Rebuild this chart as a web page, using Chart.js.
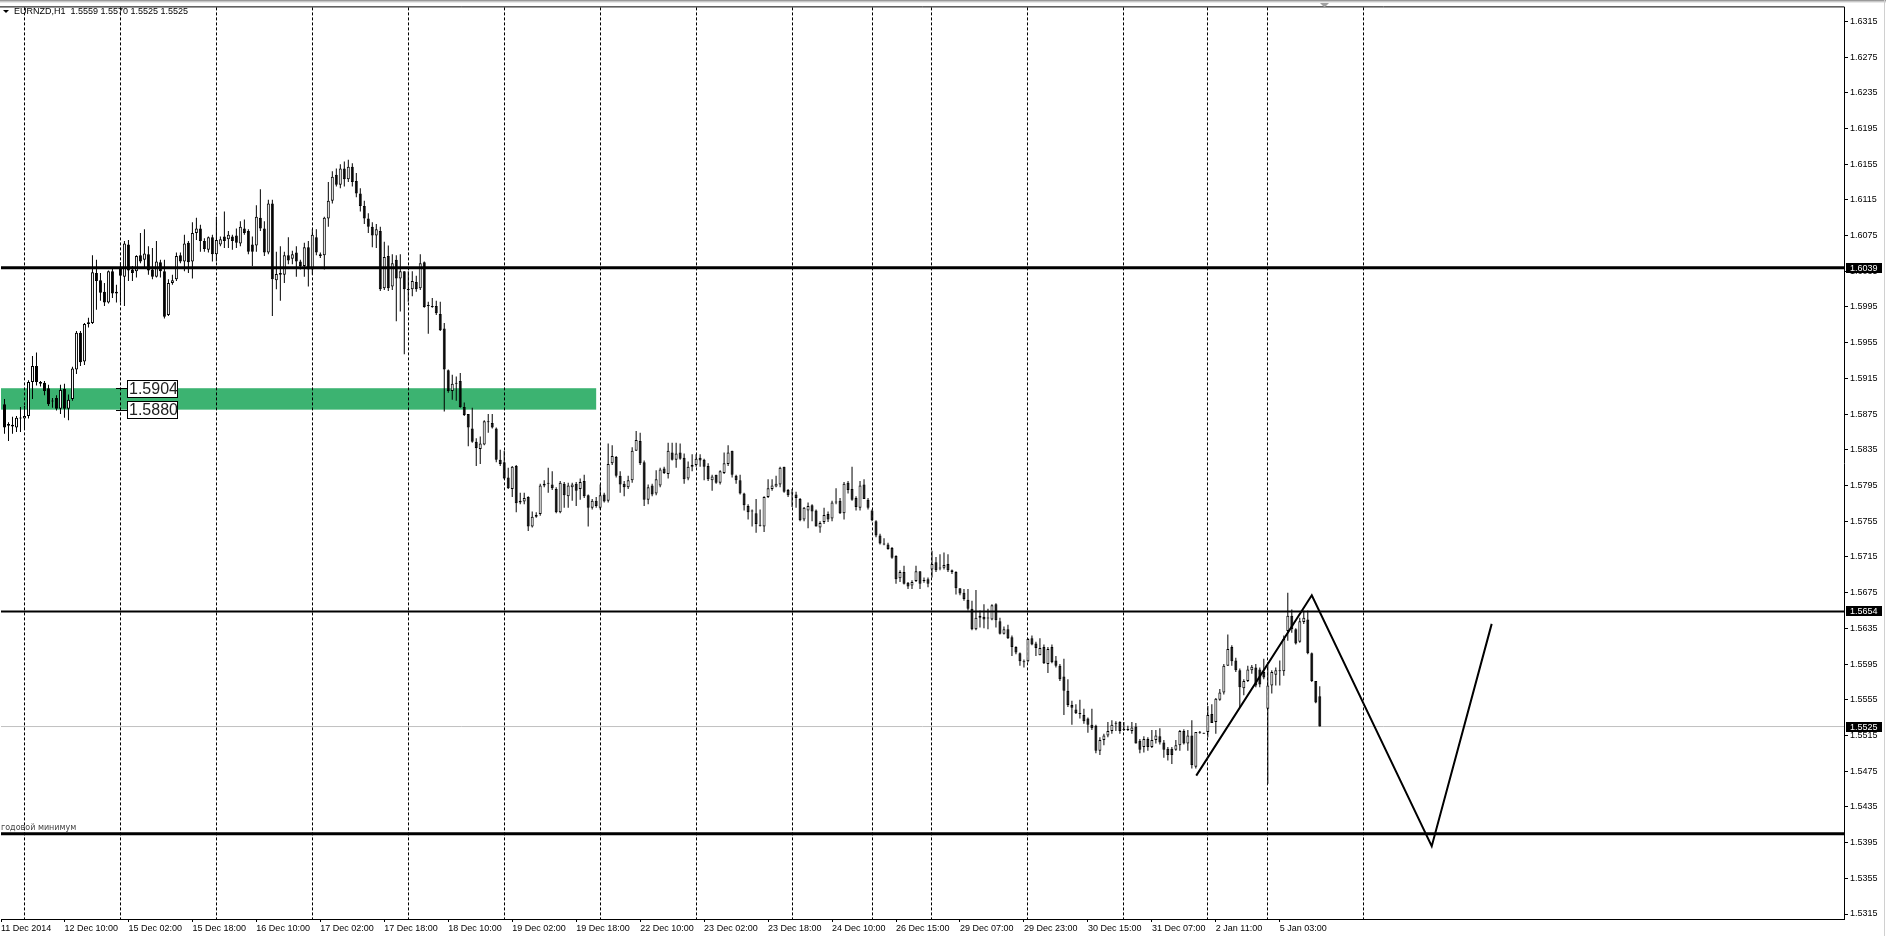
<!DOCTYPE html>
<html>
<head>
<meta charset="utf-8">
<script src="https://cdn.jsdelivr.net/npm/chart.js@4.4.1/dist/chart.umd.min.js"></script>
<style>
  html, body { margin: 0; padding: 0; background: #fff; }
  #wrap { position: relative; width: 1886px; height: 936px; }
</style>
</head>
<body>
<div id="wrap"><canvas id="chart"></canvas></div>
<script>
// EURNZD H1 candles, bar index 0 = 11 Dec 2014 19:00 ... 329 = 5 Jan 2015 13:00
const opens = [
  1.5886,1.5862,1.5863,1.5860,1.5871,1.5870,1.5873,1.5911,1.5929,1.5911,
  1.5910,1.5904,1.5889,1.5893,1.5881,1.5903,1.5881,1.5892,1.5925,1.5966,
  1.5934,1.5976,1.5977,1.6033,1.6025,1.6012,1.6000,1.6035,1.6010,1.6040,
  1.6029,1.6065,1.6037,1.6035,1.6053,1.6048,1.6054,1.6037,1.6029,1.6045,
  1.6035,1.5986,1.6022,1.6026,1.6053,1.6046,1.6067,1.6046,1.6078,1.6083,
  1.6069,1.6059,1.6073,1.6054,1.6065,1.6074,1.6071,1.6074,1.6075,1.6066,
  1.6083,1.6080,1.6065,1.6064,1.6095,1.6083,1.6056,1.6111,1.6025,1.6033,
  1.6031,1.6053,1.6049,1.6056,1.6046,1.6041,1.6062,1.6037,1.6073,1.6054,
  1.6053,1.6094,1.6114,1.6143,1.6132,1.6150,1.6138,1.6152,1.6136,1.6122,
  1.6108,1.6094,1.6085,1.6075,1.6080,1.6016,1.6052,1.6018,1.6048,1.6027,
  1.6035,1.6015,1.6015,1.6023,1.6016,1.6045,1.5997,1.5996,1.5996,1.5987,
  1.5971,1.5924,1.5901,1.5909,1.5912,1.5883,1.5875,1.5859,1.5844,1.5836,
  1.5841,1.5867,1.5865,1.5859,1.5824,1.5821,1.5804,1.5791,1.5817,1.5778,
  1.5777,1.5782,1.5749,1.5762,1.5763,1.5795,1.5797,1.5796,1.5791,1.5765,
  1.5797,1.5783,1.5793,1.5797,1.5791,1.5800,1.5784,1.5770,1.5778,1.5770,
  1.5785,1.5778,1.5820,1.5827,1.5806,1.5797,1.5793,1.5801,1.5834,1.5845,
  1.5821,1.5779,1.5795,1.5786,1.5795,1.5814,1.5808,1.5832,1.5824,1.5832,
  1.5826,1.5803,1.5816,1.5818,1.5826,1.5824,1.5817,1.5801,1.5807,1.5798,
  1.5809,1.5819,1.5834,1.5806,1.5801,1.5786,1.5772,1.5767,1.5764,1.5751,
  1.5749,1.5782,1.5791,1.5794,1.5796,1.5816,1.5790,1.5787,1.5785,1.5780,
  1.5757,1.5767,1.5773,1.5767,1.5748,1.5754,1.5763,1.5758,1.5776,1.5778,
  1.5764,1.5798,1.5791,1.5781,1.5770,1.5796,1.5779,1.5767,1.5755,1.5739,
  1.5730,1.5729,1.5725,1.5716,1.5691,1.5698,1.5686,1.5683,1.5688,1.5699,
  1.5689,1.5690,1.5701,1.5709,1.5703,1.5703,1.5707,1.5700,1.5698,1.5680,
  1.5675,1.5667,1.5657,1.5634,1.5649,1.5648,1.5647,1.5645,1.5662,1.5643,
  1.5629,1.5634,1.5625,1.5614,1.5607,1.5598,1.5598,1.5624,1.5618,1.5605,
  1.5614,1.5595,1.5614,1.5599,1.5593,1.5581,1.5565,1.5549,1.5544,1.5540,
  1.5538,1.5534,1.5527,1.5526,1.5498,1.5510,1.5515,1.5520,1.5528,1.5530,
  1.5522,1.5521,1.5520,1.5525,1.5509,1.5502,1.5511,1.5502,1.5510,1.5514,
  1.5507,1.5500,1.5500,1.5499,1.5504,1.5520,1.5506,1.5515,1.5480,1.5518,
  1.5518,1.5519,1.5539,1.5530,1.5555,1.5563,1.5593,1.5614,1.5599,1.5588,
  1.5568,1.5576,1.5588,1.5591,1.5589,1.5586,1.5545,1.5571,1.5583,1.5588,
  1.5587,1.5632,1.5649,1.5634,1.5620,1.5642,1.5645,1.5607,1.5576,1.5559
];
const highs = [
  1.5892,1.5866,1.5872,1.5873,1.5883,1.5884,1.5913,1.5940,1.5944,1.5912,
  1.5912,1.5908,1.5893,1.5896,1.5908,1.5909,1.5897,1.5928,1.5968,1.5968,
  1.5977,1.5983,1.6053,1.6048,1.6033,1.6022,1.6036,1.6039,1.6020,1.6045,
  1.6069,1.6070,1.6041,1.6053,1.6078,1.6082,1.6063,1.6061,1.6069,1.6048,
  1.6048,1.6026,1.6031,1.6056,1.6056,1.6076,1.6069,1.6090,1.6095,1.6087,
  1.6072,1.6074,1.6076,1.6096,1.6074,1.6102,1.6080,1.6076,1.6083,1.6091,
  1.6093,1.6082,1.6074,1.6109,1.6127,1.6091,1.6115,1.6115,1.6057,1.6063,
  1.6057,1.6073,1.6058,1.6063,1.6048,1.6067,1.6069,1.6082,1.6082,1.6056,
  1.6096,1.6135,1.6147,1.6150,1.6155,1.6158,1.6160,1.6156,1.6145,1.6128,
  1.6114,1.6100,1.6090,1.6088,1.6085,1.6068,1.6064,1.6054,1.6053,1.6054,
  1.6035,1.6035,1.6035,1.6030,1.6054,1.6046,1.6001,1.6005,1.6002,1.6001,
  1.5977,1.5925,1.5919,1.5917,1.5921,1.5888,1.5875,1.5882,1.5848,1.5850,
  1.5868,1.5875,1.5875,1.5860,1.5835,1.5834,1.5815,1.5817,1.5818,1.5787,
  1.5787,1.5783,1.5766,1.5765,1.5797,1.5801,1.5815,1.5811,1.5793,1.5800,
  1.5799,1.5798,1.5798,1.5799,1.5803,1.5807,1.5785,1.5780,1.5782,1.5796,
  1.5787,1.5842,1.5840,1.5828,1.5811,1.5800,1.5806,1.5838,1.5856,1.5854,
  1.5823,1.5796,1.5797,1.5812,1.5815,1.5816,1.5843,1.5843,1.5843,1.5842,
  1.5831,1.5822,1.5830,1.5830,1.5830,1.5825,1.5820,1.5807,1.5807,1.5812,
  1.5832,1.5840,1.5834,1.5807,1.5807,1.5787,1.5774,1.5768,1.5780,1.5768,
  1.5783,1.5802,1.5802,1.5806,1.5816,1.5816,1.5791,1.5791,1.5788,1.5781,
  1.5771,1.5776,1.5774,1.5768,1.5755,1.5770,1.5766,1.5778,1.5792,1.5781,
  1.5799,1.5800,1.5816,1.5783,1.5800,1.5802,1.5781,1.5768,1.5756,1.5741,
  1.5736,1.5731,1.5726,1.5717,1.5700,1.5705,1.5687,1.5689,1.5705,1.5699,
  1.5692,1.5692,1.5722,1.5715,1.5718,1.5720,1.5718,1.5701,1.5699,1.5680,
  1.5679,1.5679,1.5666,1.5678,1.5655,1.5662,1.5657,1.5662,1.5663,1.5647,
  1.5637,1.5639,1.5627,1.5615,1.5608,1.5600,1.5624,1.5627,1.5620,1.5624,
  1.5617,1.5614,1.5617,1.5604,1.5595,1.5601,1.5578,1.5554,1.5550,1.5555,
  1.5545,1.5535,1.5545,1.5527,1.5513,1.5517,1.5530,1.5532,1.5531,1.5531,
  1.5530,1.5526,1.5530,1.5529,1.5511,1.5514,1.5513,1.5521,1.5521,1.5523,
  1.5510,1.5502,1.5502,1.5510,1.5521,1.5522,1.5521,1.5532,1.5519,1.5520,
  1.5518,1.5548,1.5550,1.5557,1.5567,1.5595,1.5628,1.5616,1.5602,1.5590,
  1.5578,1.5593,1.5594,1.5595,1.5591,1.5601,1.5594,1.5588,1.5591,1.5599,
  1.5627,1.5675,1.5656,1.5635,1.5647,1.5655,1.5655,1.5608,1.5576,1.5570
];
const lows = [
  1.5853,1.5845,1.5853,1.5855,1.5855,1.5859,1.5870,1.5892,1.5907,1.5906,
  1.5896,1.5884,1.5882,1.5879,1.5875,1.5871,1.5868,1.5890,1.5920,1.5929,
  1.5930,1.5972,1.5976,1.5992,1.6002,1.5996,1.5999,1.6005,1.6000,1.6000,
  1.5996,1.6024,1.6024,1.6028,1.6044,1.6039,1.6031,1.6026,1.6028,1.6028,
  1.5982,1.5985,1.6020,1.6024,1.6044,1.6035,1.6033,1.6027,1.6070,1.6057,
  1.6057,1.6056,1.6046,1.6046,1.6063,1.6061,1.6061,1.6059,1.6061,1.6063,
  1.6076,1.6054,1.6041,1.6057,1.6080,1.6052,1.6054,1.5985,1.6015,1.6002,
  1.6022,1.6043,1.6043,1.6029,1.6037,1.6029,1.6018,1.6031,1.6053,1.6050,
  1.6037,1.6085,1.6111,1.6130,1.6128,1.6130,1.6135,1.6130,1.6118,1.6102,
  1.6088,1.6078,1.6062,1.6061,1.6013,1.6014,1.6013,1.6014,1.5979,1.5990,
  1.5942,1.6001,1.6007,1.6012,1.6014,1.5994,1.5965,1.5994,1.5986,1.5968,
  1.5878,1.5899,1.5891,1.5890,1.5882,1.5873,1.5839,1.5843,1.5817,1.5819,
  1.5840,1.5854,1.5859,1.5821,1.5817,1.5802,1.5791,1.5782,1.5765,1.5774,
  1.5774,1.5744,1.5748,1.5759,1.5761,1.5793,1.5787,1.5790,1.5764,1.5764,
  1.5770,1.5770,1.5778,1.5772,1.5779,1.5781,1.5749,1.5768,1.5770,1.5768,
  1.5776,1.5776,1.5818,1.5804,1.5787,1.5783,1.5791,1.5798,1.5834,1.5818,
  1.5772,1.5774,1.5783,1.5784,1.5793,1.5808,1.5803,1.5823,1.5815,1.5824,
  1.5797,1.5801,1.5811,1.5816,1.5816,1.5801,1.5800,1.5789,1.5797,1.5796,
  1.5808,1.5817,1.5804,1.5797,1.5785,1.5767,1.5757,1.5749,1.5742,1.5749,
  1.5743,1.5781,1.5789,1.5793,1.5793,1.5787,1.5782,1.5771,1.5770,1.5755,
  1.5755,1.5747,1.5755,1.5749,1.5742,1.5752,1.5754,1.5755,1.5774,1.5763,
  1.5757,1.5786,1.5778,1.5767,1.5767,1.5780,1.5768,1.5755,1.5737,1.5729,
  1.5728,1.5723,1.5713,1.5685,1.5687,1.5684,1.5679,1.5679,1.5687,1.5679,
  1.5686,1.5681,1.5692,1.5698,1.5700,1.5701,1.5698,1.5696,1.5673,1.5672,
  1.5666,1.5655,1.5633,1.5633,1.5636,1.5635,1.5634,1.5644,1.5636,1.5628,
  1.5628,1.5623,1.5604,1.5606,1.5593,1.5591,1.5597,1.5616,1.5604,1.5605,
  1.5595,1.5585,1.5596,1.5591,1.5576,1.5538,1.5547,1.5527,1.5539,1.5534,
  1.5528,1.5518,1.5521,1.5495,1.5493,1.5504,1.5513,1.5517,1.5520,1.5517,
  1.5520,1.5520,1.5517,1.5506,1.5495,1.5496,1.5498,1.5501,1.5506,1.5505,
  1.5490,1.5487,1.5483,1.5498,1.5498,1.5505,1.5498,1.5478,1.5478,1.5517,
  1.5517,1.5513,1.5529,1.5517,1.5554,1.5561,1.5593,1.5593,1.5586,1.5547,
  1.5560,1.5575,1.5584,1.5569,1.5569,1.5578,1.5461,1.5562,1.5571,1.5571,
  1.5582,1.5621,1.5630,1.5617,1.5619,1.5640,1.5606,1.5575,1.5551,1.5525
];
const closes = [
  1.5860,1.5864,1.5861,1.5871,1.5870,1.5873,1.5911,1.5929,1.5911,1.5909,
  1.5901,1.5886,1.5889,1.5881,1.5902,1.5881,1.5891,1.5926,1.5966,1.5933,
  1.5976,1.5978,1.6034,1.6024,1.6011,1.6000,1.6035,1.6010,1.6012,1.6030,
  1.6066,1.6036,1.6033,1.6052,1.6046,1.6055,1.6036,1.6029,1.6046,1.6035,
  1.5984,1.6022,1.6025,1.6052,1.6046,1.6066,1.6045,1.6078,1.6083,1.6069,
  1.6060,1.6073,1.6054,1.6070,1.6071,1.6069,1.6076,1.6069,1.6067,1.6085,
  1.6078,1.6057,1.6057,1.6096,1.6083,1.6056,1.6111,1.6026,1.6032,1.6031,
  1.6053,1.6047,1.6054,1.6046,1.6041,1.6062,1.6037,1.6076,1.6056,1.6052,
  1.6095,1.6114,1.6141,1.6132,1.6150,1.6138,1.6152,1.6135,1.6122,1.6108,
  1.6094,1.6085,1.6075,1.6082,1.6015,1.6051,1.6016,1.6044,1.6027,1.6035,
  1.6015,1.6014,1.6024,1.6015,1.6044,1.5995,1.5996,1.5995,1.5988,1.5969,
  1.5925,1.5901,1.5909,1.5910,1.5883,1.5874,1.5860,1.5844,1.5837,1.5842,
  1.5867,1.5866,1.5860,1.5824,1.5819,1.5803,1.5792,1.5816,1.5775,1.5776,
  1.5781,1.5749,1.5760,1.5760,1.5795,1.5797,1.5797,1.5792,1.5765,1.5798,
  1.5784,1.5795,1.5796,1.5789,1.5799,1.5783,1.5770,1.5778,1.5772,1.5784,
  1.5777,1.5819,1.5828,1.5806,1.5796,1.5793,1.5801,1.5834,1.5846,1.5820,
  1.5779,1.5793,1.5785,1.5802,1.5813,1.5809,1.5834,1.5824,1.5831,1.5825,
  1.5802,1.5816,1.5818,1.5825,1.5823,1.5816,1.5802,1.5805,1.5798,1.5811,
  1.5820,1.5832,1.5807,1.5801,1.5786,1.5773,1.5765,1.5766,1.5752,1.5750,
  1.5782,1.5792,1.5795,1.5797,1.5815,1.5788,1.5784,1.5786,1.5781,1.5756,
  1.5770,1.5772,1.5766,1.5749,1.5753,1.5762,1.5757,1.5776,1.5777,1.5764,
  1.5797,1.5790,1.5779,1.5771,1.5795,1.5780,1.5770,1.5756,1.5739,1.5730,
  1.5729,1.5724,1.5714,1.5690,1.5698,1.5685,1.5682,1.5687,1.5699,1.5685,
  1.5688,1.5685,1.5707,1.5700,1.5702,1.5706,1.5700,1.5698,1.5680,1.5674,
  1.5668,1.5657,1.5634,1.5647,1.5647,1.5645,1.5646,1.5661,1.5644,1.5629,
  1.5634,1.5624,1.5614,1.5608,1.5598,1.5597,1.5623,1.5617,1.5613,1.5613,
  1.5596,1.5612,1.5597,1.5593,1.5578,1.5565,1.5549,1.5546,1.5540,1.5539,
  1.5531,1.5527,1.5523,1.5498,1.5510,1.5515,1.5520,1.5527,1.5529,1.5520,
  1.5521,1.5522,1.5524,1.5506,1.5499,1.5511,1.5502,1.5510,1.5515,1.5507,
  1.5499,1.5493,1.5493,1.5504,1.5520,1.5506,1.5515,1.5482,1.5519,1.5518,
  1.5517,1.5538,1.5529,1.5556,1.5563,1.5593,1.5612,1.5598,1.5588,1.5569,
  1.5576,1.5589,1.5592,1.5571,1.5572,1.5580,1.5571,1.5586,1.5588,1.5587,
  1.5623,1.5649,1.5634,1.5618,1.5643,1.5647,1.5607,1.5576,1.5552,1.5525
];

// bar indexes where a new trading day starts (period separators)
const daySeparators = [5, 29, 53, 77, 101, 125, 149, 173, 197, 217, 232, 256, 280, 301, 316, 340];

const xTickIdx = [-0.875, 15, 31, 47, 63, 79, 95, 111, 127, 143, 159, 175, 191, 207, 223, 239, 255, 271, 287, 303, 319];
const xTickLabels = ['11 Dec 2014', '12 Dec 10:00', '15 Dec 02:00', '15 Dec 18:00', '16 Dec 10:00', '17 Dec 02:00',
  '17 Dec 18:00', '18 Dec 10:00', '19 Dec 02:00', '19 Dec 18:00', '22 Dec 10:00', '23 Dec 02:00', '23 Dec 18:00',
  '24 Dec 10:00', '26 Dec 15:00', '29 Dec 07:00', '29 Dec 23:00', '30 Dec 15:00', '31 Dec 07:00', '2 Jan 11:00', '5 Jan 03:00'];

const yTicks = [1.6315, 1.6275, 1.6235, 1.6195, 1.6155, 1.6115, 1.6075, 1.6035, 1.5995, 1.5955, 1.5915, 1.5875, 1.5835,
  1.5795, 1.5755, 1.5715, 1.5675, 1.5635, 1.5595, 1.5555, 1.5515, 1.5475, 1.5435, 1.5395, 1.5355, 1.5315];

// drawn objects
const resistanceHigh = 1.6039;
const resistanceLow = 1.5654;
const yearlyLow = 1.5405;
const bidPrice = 1.5525;
const zonePrices = [1.5880, 1.5904];
const zoneEndIdx = 148;
const zoneLabelIdx = 28;
const zigzagIdx = [298.1, 327, 357, 372];
const zigzagPrice = [1.5470, 1.5672, 1.5391, 1.5640];

const X_MIN = -0.875, X_MAX = 460.125;
const Y_MIN = 1.53094, Y_MAX = 1.63306;

Chart.defaults.font.family = '"Liberation Sans", Arial, sans-serif';
Chart.defaults.font.size = 9;
Chart.defaults.color = '#000';

const wickData = opens.map((o, i) => ({ x: i, y: [lows[i], highs[i]] }));
const bodyData = opens.map((o, i) => ({ x: i, y: [Math.min(o, closes[i]), Math.max(o, closes[i])] }));
const bodyColors = opens.map((o, i) => closes[i] >= o ? '#ffffff' : '#000000');

function hline(price) {
  return [{ x: X_MIN, y: price }, { x: X_MAX, y: price }];
}

const mtDecor = {
  id: 'mtDecor',
  beforeDraw(chart) {
    const { ctx, width, height } = chart;
    ctx.save();
    ctx.fillStyle = '#fff';
    ctx.fillRect(0, 0, width, height);
    ctx.restore();
  },
  beforeDatasetsDraw(chart) {
    const { ctx, chartArea: a, scales: { x, y } } = chart;
    ctx.save();
    // support zone
    const zx1 = x.getPixelForValue(zoneEndIdx);
    const zTop = y.getPixelForValue(zonePrices[1]);
    const zBot = y.getPixelForValue(zonePrices[0]);
    ctx.fillStyle = '#3cb371';
    ctx.fillRect(a.left, zTop, zx1 - a.left, zBot - zTop);
    // day separators
    ctx.strokeStyle = '#000';
    ctx.lineWidth = 1;
    ctx.setLineDash([3, 2]);
    daySeparators.forEach(idx => {
      const px = Math.floor(x.getPixelForValue(idx)) + 0.5;
      ctx.beginPath();
      ctx.moveTo(px, a.top);
      ctx.lineTo(px, a.bottom);
      ctx.stroke();
    });
    ctx.restore();
  },
  afterDraw(chart) {
    const { ctx, chartArea: a, scales: { x, y }, width } = chart;
    ctx.save();

    // window frame
    ctx.fillStyle = '#9a9a9a';
    ctx.fillRect(0, 0, width, 1);
    ctx.fillStyle = '#c8c8c8';
    ctx.fillRect(0, 1, width, 1);
    ctx.fillStyle = '#e8e8e8';
    ctx.fillRect(0, 2, width, 1);
    ctx.fillStyle = '#d0d0d0';
    ctx.fillRect(1884, 0, 1, chart.height);
    ctx.strokeStyle = '#000';
    ctx.lineWidth = 1;
    ctx.beginPath();
    ctx.moveTo(0, a.top - 0.5);
    ctx.lineTo(a.right + 0.5, a.top - 0.5);
    ctx.stroke();

    // chart shift marker
    ctx.fillStyle = '#a0a0a0';
    ctx.beginPath();
    ctx.moveTo(1320, 3); ctx.lineTo(1329, 3); ctx.lineTo(1324.5, 7.5);
    ctx.closePath();
    ctx.fill();

    // title
    ctx.fillStyle = '#000';
    ctx.beginPath();
    ctx.moveTo(3, 10); ctx.lineTo(9, 10); ctx.lineTo(6, 13);
    ctx.closePath();
    ctx.fill();
    ctx.font = '9px "Liberation Sans", Arial, sans-serif';
    ctx.textBaseline = 'middle';
    ctx.textAlign = 'left';
    ctx.fillText('EURNZD,H1  1.5559 1.5570 1.5525 1.5525', 14, 12);

    // zone price labels
    const lx = Math.floor(x.getPixelForValue(zoneLabelIdx));
    ctx.font = '16px "Liberation Sans", Arial, sans-serif';
    zonePrices.slice().reverse().forEach((p, k) => {
      const py = Math.round(y.getPixelForValue(p));
      ctx.strokeStyle = '#000';
      ctx.beginPath();
      ctx.moveTo(lx, py + 0.5);
      ctx.lineTo(lx + 11, py + 0.5);
      ctx.stroke();
      const by = k === 0 ? py - 8 : py - 9;
      ctx.fillStyle = '#fff';
      ctx.fillRect(lx + 11, by, 51, 18);
      ctx.strokeRect(lx + 11.5, by + 0.5, 50, 17);
      ctx.fillStyle = '#222';
      ctx.fillText(p.toFixed(4), lx + 13, by + 9.5);
    });

    // yearly low caption
    ctx.font = '8px "DejaVu Sans", sans-serif';
    ctx.fillStyle = '#444';
    ctx.textBaseline = 'alphabetic';
    ctx.fillText('годовой минимум', 1, Math.round(y.getPixelForValue(yearlyLow)) - 4);

    // price boxes on the right axis
    ctx.font = '9px "Liberation Sans", Arial, sans-serif';
    ctx.textBaseline = 'middle';
    [resistanceHigh, resistanceLow, bidPrice].forEach(p => {
      const py = Math.round(y.getPixelForValue(p));
      ctx.fillStyle = '#000';
      ctx.fillRect(a.right + 2, py - 5, 36, 10);
      ctx.fillStyle = '#fff';
      ctx.fillText(p.toFixed(4), a.right + 6, py + 0.5);
    });
    ctx.restore();
  }
};

new Chart(document.getElementById('chart'), {
  type: 'bar',
  data: {
    datasets: [
      {
        type: 'line', label: 'zigzag', order: 0,
        data: zigzagIdx.map((v, i) => ({ x: v, y: zigzagPrice[i] })),
        borderColor: '#000', borderWidth: 2, pointRadius: 0, tension: 0
      },
      {
        type: 'line', label: '1.6039', order: 0, data: hline(resistanceHigh),
        borderColor: '#000', borderWidth: 3, pointRadius: 0
      },
      {
        type: 'line', label: '1.5654', order: 0, data: hline(resistanceLow),
        borderColor: '#000', borderWidth: 2, pointRadius: 0
      },
      {
        type: 'line', label: 'yearly low', order: 0, data: hline(yearlyLow),
        borderColor: '#000', borderWidth: 3, pointRadius: 0
      },
      {
        label: 'bodies', order: 1, data: bodyData,
        backgroundColor: bodyColors, borderColor: '#000', borderWidth: 1,
        borderSkipped: false, barThickness: 3, minBarLength: 1, grouped: false, inflateAmount: 0
      },
      {
        label: 'wicks', order: 2, data: wickData,
        backgroundColor: '#000', borderWidth: 0, barThickness: 1, grouped: false, inflateAmount: 0
      },
      {
        type: 'line', label: 'bid', order: 3, data: hline(bidPrice),
        borderColor: '#c0c0c0', borderWidth: 1, pointRadius: 0
      }
    ]
  },
  options: {
    responsive: true,
    maintainAspectRatio: false,
    animation: false,
    devicePixelRatio: 1,
    layout: { padding: { top: 5, left: 0, right: 0, bottom: 0 }, autoPadding: false },
    plugins: { legend: { display: false }, tooltip: { enabled: false } },
    scales: {
      x: {
        type: 'linear', min: X_MIN, max: X_MAX, offset: false,
        afterBuildTicks: scale => { scale.ticks = xTickIdx.map(v => ({ value: v })); },
        afterFit: scale => { scale.height = 17; },
        grid: { drawOnChartArea: false, drawTicks: true, tickLength: 3, color: '#000', offset: false },
        border: { display: true, color: '#000', width: 1 },
        ticks: {
          autoSkip: false, maxRotation: 0, minRotation: 0, align: 'start', padding: 1,
          callback: (v, i) => xTickLabels[i]
        }
      },
      y: {
        type: 'linear', position: 'right', min: Y_MIN, max: Y_MAX,
        afterBuildTicks: scale => { scale.ticks = yTicks.map(v => ({ value: v })); },
        afterFit: scale => { scale.width = 42; },
        grid: { drawOnChartArea: false, drawTicks: true, tickLength: 4, color: '#000' },
        border: { display: true, color: '#000', width: 1 },
        ticks: { padding: 2, callback: v => v.toFixed(4) }
      }
    }
  },
  plugins: [mtDecor]
});
</script>
</body>
</html>
